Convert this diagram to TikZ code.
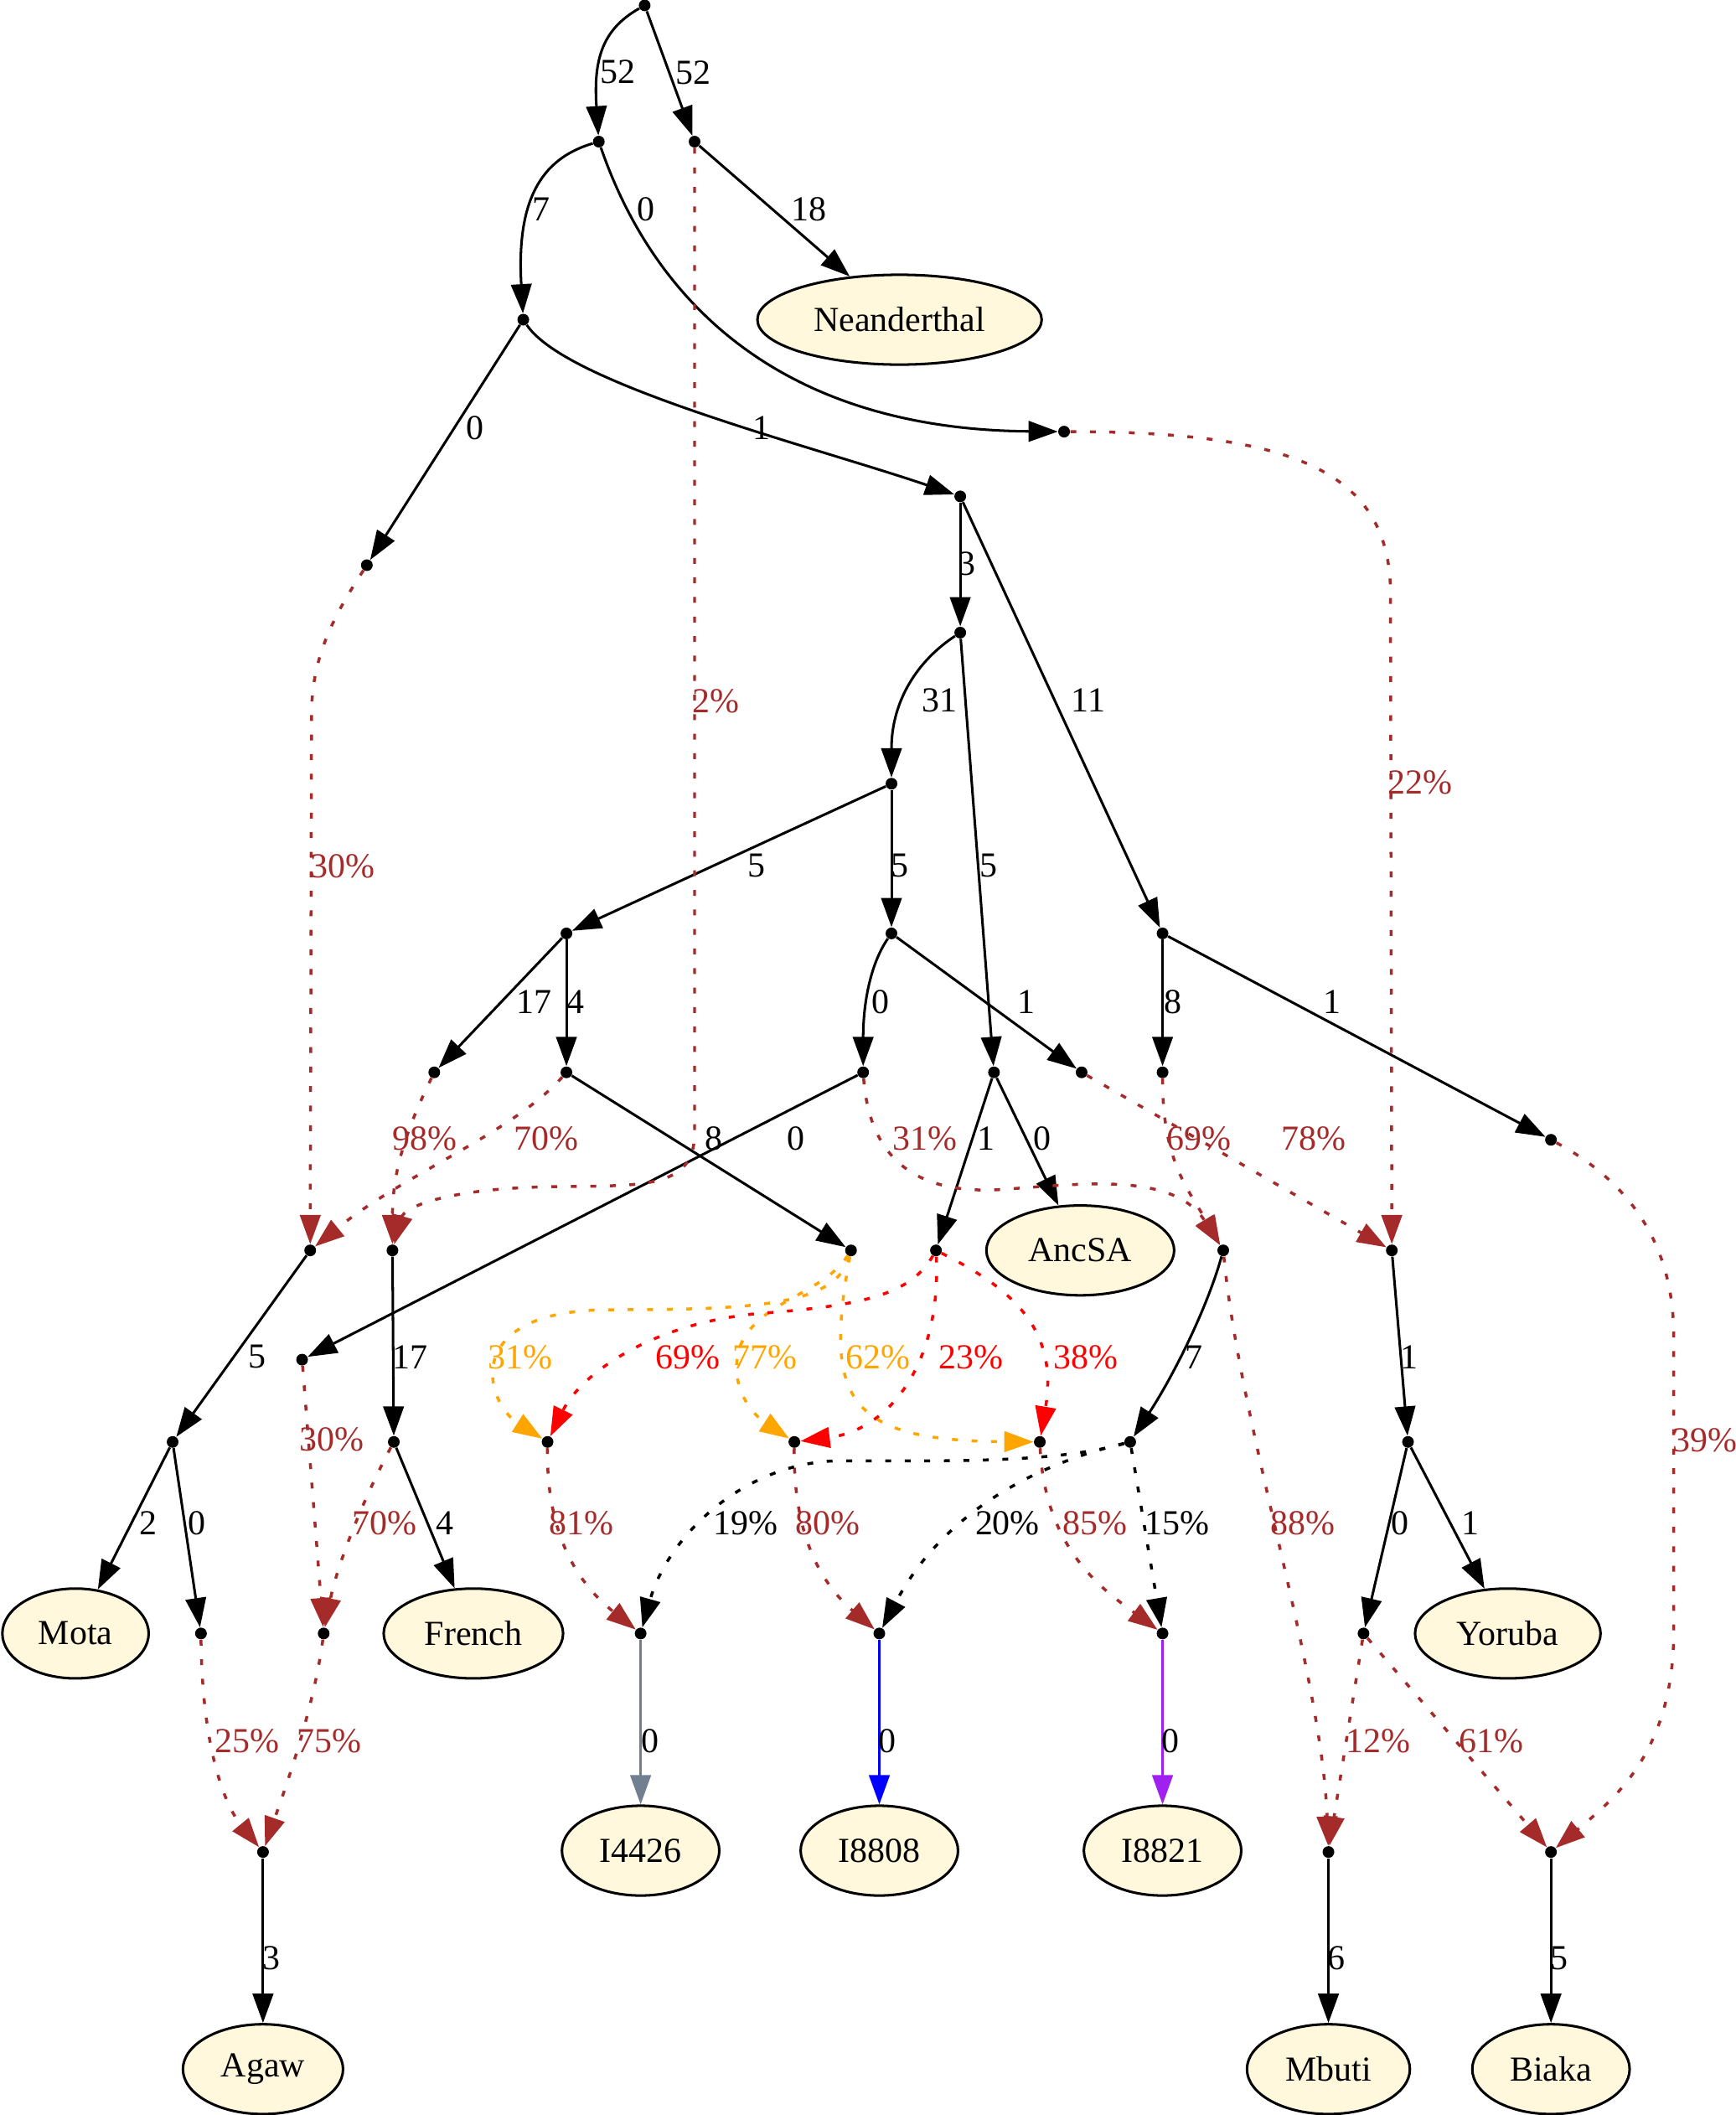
\documentclass[tikz,border=0pt]{standalone}
\usepackage{fontspec}
\setmainfont{Liberation Serif}
\usetikzlibrary{arrows.meta,shapes.geometric}
\definecolor{cornsilk}{HTML}{FFF8DC}
\definecolor{gvbrown}{HTML}{A52A2A}
\definecolor{gvorange}{HTML}{FFA500}
\definecolor{gvred}{HTML}{FF0000}
\definecolor{gvslate}{HTML}{708090}
\definecolor{gvpurple}{HTML}{A020F0}

\begin{document}
\begin{tikzpicture}[x=0.02427cm, y=-0.02427cm,
    every node/.style={font=\fontsize{18}{21}\selectfont},
    pnt/.style={circle, fill=black, inner sep=0pt, minimum size=6pt},
    pop/.style={ellipse, draw, line width=1.3pt, fill=cornsilk, inner xsep=7.5pt, inner ysep=2pt, minimum height=46pt},
    tree/.style={line width=1.3pt, -{Triangle[length=15pt,width=10.5pt]}},
    mix/.style={line width=1.5pt, dash pattern=on 3pt off 7pt, -{Triangle[length=15pt,width=10.5pt]}},
    lbl/.style={inner sep=0pt}]
        \useasboundingbox (0,0) rectangle (1287,1568);

        % Nodes
        \node[pnt] (root) at (478,4) {};
        \node[pnt] (n1) at (444,105) {};
        \node[pnt] (n2) at (515,105) {};
        \node[pnt] (n3) at (388,237) {};
        \node[pnt] (n4) at (789,320) {};
        \node[pnt] (n5) at (712,368) {};
        \node[pnt] (n6) at (272,419) {};
        \node[pnt] (n7) at (712,469) {};
        \node[pnt] (n8) at (661,581) {};
        \node[pnt] (n9) at (420,692) {};
        \node[pnt] (n10) at (661,692) {};
        \node[pnt] (n11) at (862,692) {};
        \node[pnt] (n12) at (322,795) {};
        \node[pnt] (n13) at (420,795) {};
        \node[pnt] (n14) at (640,795) {};
        \node[pnt] (n15) at (737,795) {};
        \node[pnt] (n16) at (802,795) {};
        \node[pnt] (n17) at (862,795) {};
        \node[pnt] (n18) at (1150,845) {};
        \node[pnt] (n19) at (230,927) {};
        \node[pnt] (n20) at (291,927) {};
        \node[pnt] (n21) at (631,927) {};
        \node[pnt] (n22) at (694,927) {};
        \node[pnt] (n23) at (907,927) {};
        \node[pnt] (n24) at (1032,927) {};
        \node[pnt] (n25) at (224,1008) {};
        \node[pnt] (n26) at (128,1069) {};
        \node[pnt] (n27) at (292,1069) {};
        \node[pnt] (n28) at (406,1069) {};
        \node[pnt] (n29) at (589,1069) {};
        \node[pnt] (n30) at (771,1069) {};
        \node[pnt] (n31) at (838,1069) {};
        \node[pnt] (n32) at (1044,1069) {};
        \node[pnt] (n33) at (149,1211) {};
        \node[pnt] (n34) at (240,1211) {};
        \node[pnt] (n35) at (475,1211) {};
        \node[pnt] (n36) at (652,1211) {};
        \node[pnt] (n37) at (862,1211) {};
        \node[pnt] (n38) at (1011,1211) {};
        \node[pnt] (n39) at (195,1373) {};
        \node[pnt] (n40) at (985,1373) {};
        \node[pnt] (n41) at (1150,1373) {};

        \node[pop] (Neanderthal) at (667,237) {Neanderthal};
        \node[pop] (AncSA) at (801,927) {AncSA};
        \node[pop] (Mota) at (56,1211) {Mota};
        \node[pop] (French) at (351,1211) {French};
        \node[pop] (Yoruba) at (1118,1211) {Yoruba};
        \node[pop] (I4426) at (475,1372) {I4426};
        \node[pop] (I8808) at (652,1372) {I8808};
        \node[pop] (I8821) at (862,1372) {I8821};
        \node[pop] (Agaw) at (195,1534) {Agaw};
        \node[pop] (Mbuti) at (985,1534) {Mbuti};
        \node[pop] (Biaka) at (1150,1534) {Biaka};

        % Drift edges
        \draw[tree] (root) .. controls (446,22) and (440,45) .. (n1) node[lbl] at (458,53) {52};
        \draw[tree] (root) -- (n2) node[lbl] at (514,54) {52};
        \draw[tree] (n1) .. controls (400,118) and (383,150) .. (n3) node[lbl] at (401,155) {7};
        \draw[tree] (n1) .. controls (470,180) and (540,318) .. (n4) node[lbl] at (479,155) {0};
        \draw[tree] (n2) -- (Neanderthal) node[lbl] at (600,155) {18};
        \draw[tree] (n3) -- (n6) node[lbl] at (352,317) {0};
        \draw[tree] (n3) .. controls (420,285) and (600,330) .. (n5) node[lbl] at (565,317) {1};
        \draw[tree] (n5) -- (n7) node[lbl] at (717,418) {3};
        \draw[tree] (n5) -- (n11) node[lbl] at (807,519) {11};
        \draw[tree] (n7) .. controls (680,490) and (661,520) .. (n8) node[lbl] at (697,519) {31};
        \draw[tree] (n7) -- (n15) node[lbl] at (733,642) {5};
        \draw[tree] (n8) -- (n9) node[lbl] at (561,642) {5};
        \draw[tree] (n8) -- (n10) node[lbl] at (667,642) {5};
        \draw[tree] (n9) -- (n12) node[lbl] at (396,743) {17};
        \draw[tree] (n9) -- (n13) node[lbl] at (427,743) {4};
        \draw[tree] (n10) .. controls (645,715) and (640,745) .. (n14) node[lbl] at (653,743) {0};
        \draw[tree] (n10) -- (n16) node[lbl] at (761,743) {1};
        \draw[tree] (n11) -- (n17) node[lbl] at (870,743) {8};
        \draw[tree] (n11) -- (n18) node[lbl] at (988,743) {1};
        \draw[tree] (n13) -- (n21) node[lbl] at (529,844) {8};
        \draw[tree] (n14) -- (n25) node[lbl] at (590,844) {0};
        \draw[tree] (n15) -- (n22) node[lbl] at (731,844) {1};
        \draw[tree] (n15) -- (AncSA) node[lbl] at (773,844) {0};
        \draw[tree] (n19) -- (n26) node[lbl] at (191,1006) {5};
        \draw[tree] (n20) -- (n27) node[lbl] at (304,1006) {17};
        \draw[tree] (n23) .. controls (895,970) and (870,1020) .. (n31) node[lbl] at (885,1006) {7};
        \draw[tree] (n24) -- (n32) node[lbl] at (1045,1006) {1};
        \draw[tree] (n26) -- (Mota) node[lbl] at (110,1129) {2};
        \draw[tree] (n26) -- (n33) node[lbl] at (146,1129) {0};
        \draw[tree] (n27) -- (French) node[lbl] at (330,1129) {4};
        \draw[tree] (n32) -- (n38) node[lbl] at (1038,1129) {0};
        \draw[tree] (n32) -- (Yoruba) node[lbl] at (1090,1129) {1};
        \draw[tree, gvslate] (n35) -- (I4426) node[lbl, text=black] at (482,1291) {0};
        \draw[tree, blue] (n36) -- (I8808) node[lbl, text=black] at (658,1291) {0};
        \draw[tree, gvpurple] (n37) -- (I8821) node[lbl, text=black] at (868,1291) {0};
        \draw[tree] (n39) -- (Agaw) node[lbl] at (201,1452) {3};
        \draw[tree] (n40) -- (Mbuti) node[lbl] at (991,1452) {6};
        \draw[tree] (n41) -- (Biaka) node[lbl] at (1156,1452) {5};

        % Admixture edges
        \draw[mix, gvbrown] (n2) -- (515,840) .. controls (515,885) and (470,878) .. (400,880) .. controls (330,882) and (300,895) .. (n20) node[lbl] at (531,520) {2\%};
        \draw[mix, gvbrown] (n6) .. controls (245,460) and (231,490) .. (231,530) -- (n19) node[lbl] at (254,642) {30\%};
        \draw[mix, gvbrown] (n4) .. controls (960,320) and (1031,350) .. (1031,440) -- (n24) node[lbl] at (1053,580) {22\%};
        \draw[mix, gvbrown] (n12) .. controls (300,840) and (291,870) .. (n20) node[lbl] at (315,844) {98\%};
        \draw[mix, gvbrown] (n13) .. controls (380,840) and (300,870) .. (n19) node[lbl] at (405,844) {70\%};
        \draw[mix, gvbrown] (n14) .. controls (645,860) and (680,885) .. (740,882) .. controls (800,878) and (870,868) .. (n23) node[lbl] at (686,844) {31\%};
        \draw[mix, gvbrown] (n17) .. controls (862,860) and (880,880) .. (n23) node[lbl] at (889,844) {69\%};
        \draw[mix, gvbrown] (n16) -- (n24) node[lbl] at (974,844) {78\%};
        \draw[mix, gvbrown] (n18) .. controls (1215,880) and (1241,930) .. (1241,990) -- (1241,1210) .. controls (1241,1300) and (1195,1335) .. (n41) node[lbl] at (1264,1068) {39\%};
        \draw[mix, gvorange] (n21) .. controls (620,968) and (560,971) .. (450,971) .. controls (340,972) and (360,1040) .. (n28) node[lbl] at (386,1006) {31\%};
        \draw[mix, gvorange] (n21) .. controls (610,960) and (560,965) .. (548,1000) .. controls (540,1030) and (560,1050) .. (n29) node[lbl] at (567,1006) {77\%};
        \draw[mix, gvorange] (n21) .. controls (610,1040) and (630,1068) .. (n30) node[lbl] at (651,1006) {62\%};
        \draw[mix, gvred] (n22) .. controls (675,960) and (640,968) .. (560,974) .. controls (480,982) and (430,1020) .. (n28) node[lbl] at (510,1006) {69\%};
        \draw[mix, gvred] (n22) .. controls (698,1010) and (660,1060) .. (n29) node[lbl] at (720,1006) {23\%};
        \draw[mix, gvred] (n22) .. controls (750,955) and (785,985) .. (n30) node[lbl] at (805,1006) {38\%};
        \draw[mix, gvbrown] (n25) -- (n34) node[lbl] at (246,1067) {30\%};
        \draw[mix, gvbrown] (n27) .. controls (270,1110) and (250,1160) .. (n34) node[lbl] at (285,1129) {70\%};
        \draw[mix, gvbrown] (n28) .. controls (405,1140) and (430,1175) .. (n35) node[lbl] at (431,1129) {81\%};
        \draw[mix, gvbrown] (n29) .. controls (588,1140) and (610,1175) .. (n36) node[lbl] at (614,1129) {80\%};
        \draw[mix, gvbrown] (n30) .. controls (775,1150) and (820,1180) .. (n37) node[lbl] at (812,1129) {85\%};
        \draw[mix] (n31) .. controls (780,1085) and (700,1083) .. (620,1083) .. controls (550,1085) and (495,1140) .. (n35) node[lbl] at (553,1129) {19\%};
        \draw[mix] (n31) .. controls (770,1085) and (700,1120) .. (n36) node[lbl] at (747,1129) {20\%};
        \draw[mix] (n31) -- (n37) node[lbl] at (873,1129) {15\%};
        \draw[mix, gvbrown] (n23) .. controls (920,1060) and (980,1240) .. (n40) node[lbl] at (966,1129) {88\%};
        \draw[mix, gvbrown] (n33) .. controls (150,1300) and (168,1340) .. (n39) node[lbl] at (183,1291) {25\%};
        \draw[mix, gvbrown] (n34) .. controls (232,1270) and (210,1330) .. (n39) node[lbl] at (244,1291) {75\%};
        \draw[mix, gvbrown] (n38) -- (n40) node[lbl] at (1022,1291) {12\%};
        \draw[mix, gvbrown] (n38) -- (n41) node[lbl] at (1106,1291) {61\%};
\end{tikzpicture}
\end{document}
